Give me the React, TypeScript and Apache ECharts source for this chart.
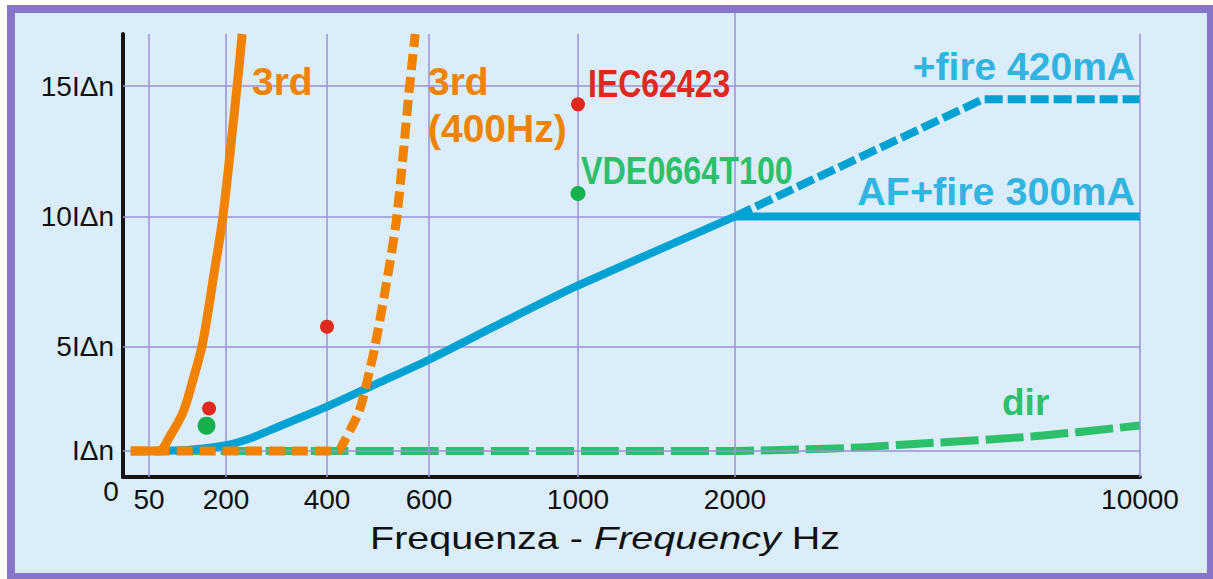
import React, { useEffect, useRef } from 'react';
import * as echarts from 'echarts';

// Nonlinear frequency scale of the original drawing (Hz -> axis units)
const TICK_FREQ = [0, 50, 200, 400, 600, 1000, 2000, 10000];
const TICK_POS = [0, 26, 103, 204, 306, 455, 612, 1017];
const X_LABEL_FREQ = [50, 200, 400, 600, 1000, 2000, 10000];

const Y_TICKS = [1, 5, 10, 15];
const Y_LABELS = ['IΔn', '5IΔn', '10IΔn', '15IΔn'];

// [frequency Hz, multiple of IΔn]
const third = [[15, 1], [71, 1], [78, 1.12], [87, 1.43], [116, 2.47], [136, 3.75], [153, 5], [165, 6.33], [175, 7.6], [194, 10], [222, 15], [232, 17]];
const third400 = [[15, 1], [420, 1], [432, 1.3], [446, 1.82], [462, 2.47], [473, 3.2], [485, 4.2], [494, 5], [518, 7.6], [537, 10], [562, 15], [573, 17]];
const afFire300Rise = [[60, 1], [130, 1.05], [200, 1.22], [250, 1.5], [300, 1.9], [350, 2.3], [400, 2.7], [500, 3.6], [600, 4.5], [800, 5.95], [1000, 7.35], [2000, 10]];
const afFire300Flat = [[2000, 10], [10000, 10]];
const fire420 = [[2000, 10], [6900, 14.5], [10000, 14.5]];
const dir = [[15, 1], [2000, 1], [2500, 1.02], [3300, 1.06], [4300, 1.12], [5300, 1.24], [7900, 1.56], [10000, 1.98]];
const iecPoints = [[167, 2.63], [400, 5.77], [1000, 14.3]];
const vdePoints = [[162, 1.97, 18], [1000, 10.88, 15]];

const ORANGE = '#f08200';
const BLUE = '#00a2d4';
const BLUE_TXT = '#33b4e0';
const GREEN = '#2ebf6b';
const GREEN_DOT = '#16b04c';
const RED = '#e0281e';
const GRIDC = '#9b90d8';
const FONT = '"Liberation Sans", Arial, Helvetica, sans-serif';

function fx(f: number): number {
  for (let i = 1; i < TICK_FREQ.length; i++) {
    if (f <= TICK_FREQ[i]) {
      const f0 = TICK_FREQ[i - 1], f1 = TICK_FREQ[i];
      const p0 = TICK_POS[i - 1], p1 = TICK_POS[i];
      return p0 + ((f - f0) / (f1 - f0)) * (p1 - p0);
    }
  }
  return TICK_POS[TICK_POS.length - 1];
}

const conv = (arr: number[][]) => arr.map((d) => [fx(d[0]), d[1]]);

function txt(x: number, y: number, text: string, fill: string, size: number, opts: any = {}) {
  const align = opts.align || 'left';
  return {
    type: 'text',
    x,
    y,
    scaleX: opts.scaleX || 1,
    z: 50,
    silent: true,
    style: {
      text,
      fill,
      font: `${opts.weight || 'bold'} ${size}px ${FONT}`,
      align,
      textAlign: align,
      verticalAlign: 'middle',
      textVerticalAlign: 'middle',
      lineHeight: opts.lineHeight,
    },
  };
}

export default function App() {
  const ref = useRef<HTMLDivElement>(null);
  useEffect(() => {
    if (!ref.current) return;
    const chart = echarts.init(ref.current, null, { renderer: 'svg' });
    const xMax = fx(10000);
    const lineBase = { type: 'line', showSymbol: false, symbol: 'none', silent: true, clip: true };
    const option: any = {
      animation: false,
      grid: { left: 123, right: 73, top: 34, bottom: 102, containLabel: false, outerBoundsMode: 'none' },
      xAxis: {
        type: 'value',
        min: 0,
        max: xMax,
        axisLine: { show: true, onZero: false, lineStyle: { color: '#151515', width: 4 } },
        axisTick: { show: false },
        splitLine: { show: false },
        axisLabel: {
          customValues: X_LABEL_FREQ.map(fx),
          margin: 8,
          color: '#111',
          fontSize: 28,
          fontFamily: FONT,
          formatter: (v: number) => {
            let best = 0;
            X_LABEL_FREQ.forEach((f, i) => {
              if (Math.abs(fx(f) - v) < Math.abs(fx(X_LABEL_FREQ[best]) - v)) best = i;
            });
            return String(X_LABEL_FREQ[best]);
          },
        },
      },
      yAxis: {
        type: 'value',
        min: 0,
        max: 17,
        axisLine: { show: true, onZero: false, lineStyle: { color: '#151515', width: 4 } },
        axisTick: { show: false },
        splitLine: { show: false },
        axisLabel: {
          customValues: Y_TICKS,
          margin: 9,
          color: '#111',
          fontSize: 28,
          fontFamily: FONT,
          formatter: (v: number) => {
            const i = Y_TICKS.indexOf(Math.round(v));
            return i >= 0 ? Y_LABELS[i] : '';
          },
        },
      },
      series: [
        {
          type: 'line',
          data: [],
          silent: true,
          z: 1,
          markLine: {
            silent: true,
            symbol: 'none',
            animation: false,
            label: { show: false },
            lineStyle: { color: GRIDC, width: 1.5, type: 'solid' },
            data: [
              ...X_LABEL_FREQ.map((f) => ({ xAxis: fx(f) })),
              ...Y_TICKS.map((v) => ({ yAxis: v })),
            ],
          },
        },
        { ...lineBase, name: 'dir', z: 3, data: conv(dir), smooth: 0.3, lineStyle: { color: GREEN, width: 8, type: [38, 7] } },
        { ...lineBase, name: '+fire 420mA', z: 4, data: conv(fire420), lineStyle: { color: BLUE, width: 8, type: [18, 5] } },
        { ...lineBase, name: 'AF+fire 300mA', z: 5, data: conv(afFire300Rise), smooth: 0.2, lineStyle: { color: BLUE, width: 8 } },
        { ...lineBase, name: 'AF+fire 300mA', z: 5, data: conv(afFire300Flat), lineStyle: { color: BLUE, width: 8 } },
        { ...lineBase, name: '3rd (400Hz)', z: 6, data: conv(third400), smooth: 0.3, lineStyle: { color: ORANGE, width: 9, type: [16, 7] } },
        { ...lineBase, name: '3rd', z: 7, data: conv(third), smooth: 0.35, lineStyle: { color: ORANGE, width: 9 } },
        {
          type: 'scatter', name: 'IEC62423', z: 8, silent: true,
          data: conv(iecPoints), symbolSize: 14, itemStyle: { color: RED, opacity: 1 },
        },
        {
          type: 'scatter', name: 'VDE0664T100', z: 8, silent: true,
          data: vdePoints.map((d) => ({ value: [fx(d[0]), d[1]], symbolSize: d[2] })),
          itemStyle: { color: GREEN_DOT, opacity: 1 },
        },
      ],
      graphic: [
        txt(252, 81.5, '3rd', ORANGE, 39),
        txt(428, 105, '3rd\n(400Hz)', ORANGE, 39, { lineHeight: 47 }),
        txt(588, 84, 'IEC62423', RED, 39, { scaleX: 0.82 }),
        txt(581, 170.5, 'VDE0664T100', GREEN, 38, { scaleX: 0.85 }),
        txt(1135, 66.5, '+fire 420mA', BLUE_TXT, 39, { align: 'right' }),
        txt(1135, 191, 'AF+fire 300mA', BLUE_TXT, 39.5, { align: 'right' }),
        txt(1002, 402.5, 'dir', GREEN, 37),
        txt(111, 491, '0', '#111', 28, { align: 'center', weight: 'normal' }),
        {
          type: 'text',
          x: 370,
          y: 537.5,
          scaleX: 1.235,
          silent: true,
          style: {
            text: '{a|Frequenza - }{b|Frequency}{a| Hz}',
            fill: '#111',
            font: `normal 32px ${FONT}`,
            verticalAlign: 'middle',
            textVerticalAlign: 'middle',
            rich: {
              a: { fontSize: 32, fontFamily: FONT, fill: '#111', color: '#111' },
              b: { fontSize: 32, fontFamily: FONT, fontStyle: 'italic', fill: '#111', color: '#111' },
            },
          },
        },
      ],
    };
    chart.setOption(option);
    const px = chart.convertToPixel({ xAxisIndex: 0 }, fx(2000)) as number;
    chart.setOption({
      graphic: [
        ...option.graphic,
        { type: 'line', silent: true, z: 0, shape: { x1: px, y1: 13, x2: px, y2: 34 }, style: { stroke: GRIDC, lineWidth: 1.5 } },
      ],
    });
    return () => chart.dispose();
  }, []);

  return (
    <div style={{ position: 'fixed', left: 0, top: 0, width: 1213, height: 579, background: '#ffffff', overflow: 'hidden' }}>
      <div
        style={{
          position: 'absolute', left: 7, top: 5, width: 1208, height: 576,
          boxSizing: 'border-box', border: '8px solid #8874c8', background: '#daedf8',
        }}
      />
      <div ref={ref} style={{ position: 'absolute', left: 0, top: 0, width: 1213, height: 579 }} />
    </div>
  );
}
